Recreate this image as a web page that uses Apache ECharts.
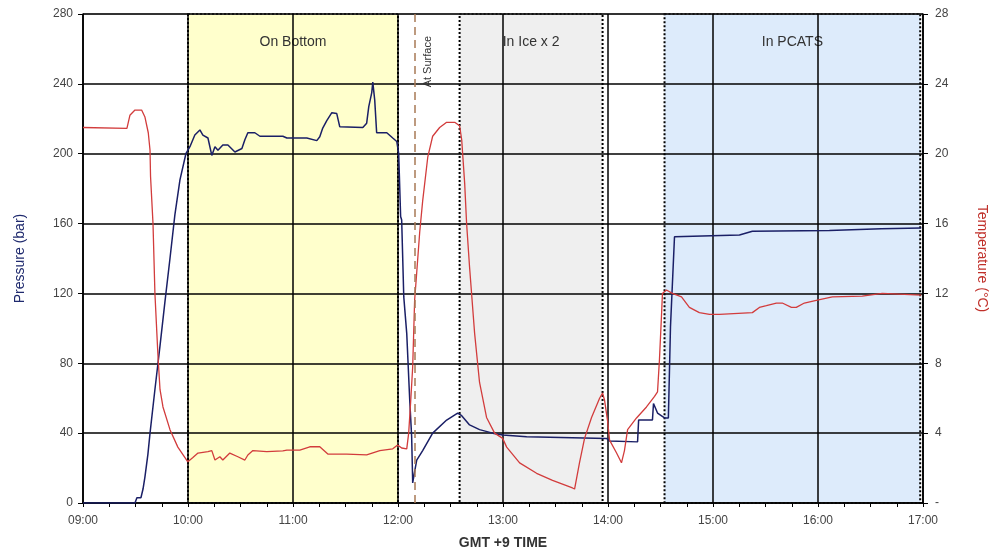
<!DOCTYPE html>
<html>
<head>
<meta charset="utf-8">
<script src="https://cdn.jsdelivr.net/npm/echarts@6/dist/echarts.min.js"></script>
<style>
  html, body { margin: 0; padding: 0; background: #fff; }
  #chart { width: 997px; height: 555px; }
</style>
</head>
<body>
<div id="chart"></div>
<script>
// time in minutes of the day (540 = 09:00)
var pressureTime = [540, 569.7, 570.8, 573.1, 574.3, 575.4, 577.1, 578.3, 581.1, 584, 586.8, 589.7, 592.5, 595.4, 598.8,
    601.1, 603.9, 606.8, 608.5, 611.4, 613.6, 615.4, 617.1, 619.9, 622.8, 626.8, 630.8, 632.5, 634.2, 638.2, 641.1,
    654.2, 656.5, 667.9, 673.6, 675.3, 677, 679.3, 682.2, 685, 686.7, 699.9, 702.1, 703.3, 705, 705.6, 706.7, 707.8,
    713.6, 717, 719.3, 720.4, 721.5, 722.1, 723.3, 725, 726.7, 727.8, 728.4, 729.5, 730.7, 734.1, 739.8, 747.8, 754.1,
    756.4, 760.9, 766.6, 774.1, 779.8, 793.5, 794.1, 839.2, 840.9, 856.9, 857.5, 865.4, 866.0, 868.3, 872.3, 874.5,
    875.7, 876.8, 878, 915.1, 916.2, 922.5, 966.5, 996.2, 1019];
var pressureVals = [0, 0, 3, 3, 8, 15, 28, 40, 65, 90, 115, 140, 165, 185, 200,
    204, 210.7, 213.6, 210.7, 209, 199, 204, 202, 205, 205, 201, 203, 208, 212, 212, 210,
    210, 209, 209, 207.5, 209.7, 214.7, 219, 223.5, 223, 215.5, 215, 217.5, 227, 235, 241, 230.7, 212,
    212, 209, 207, 200, 164, 162, 118, 97, 59, 38, 11.5, 18, 24.6, 30, 40, 47.5, 51.5,
    50, 44.7, 42, 40, 39, 38, 37.5, 37, 35.5, 35, 47.5, 47.5, 57, 51.5, 48.7, 48.7,
    100.8, 101, 152.5, 153.5, 154.6, 155.6, 156, 157, 157.5];

var tempTime = [540, 565.1, 566.8, 569.7, 573.5, 575.4, 577.3, 578.3, 578.6, 580, 581.1, 582.8, 584, 585.7, 589.7,
    594.2, 599.9, 602.8, 605.7, 611.4, 613.6, 615.4, 618.2, 619.9, 623.9, 628.5, 632.5, 634.2, 637.1, 645, 654.2,
    656.5, 663.9, 669.6, 675.3, 679.9, 690.7, 702.1, 709.6, 717, 719.8, 722.1, 725, 726.1, 727.3, 728.4, 729.5,
    730.7, 732.4, 734.1, 737, 739.8, 743.8, 747.8, 752.4, 755.2, 756.4, 758.1, 759.2, 760.9, 763.8, 766.6, 770.6,
    775.2, 779.8, 782.1, 789.5, 799.2, 808.3, 819.7, 820.9, 823.7, 826.6, 830.6, 835.2, 836.9, 838, 839.7, 840.9,
    844.9, 847.7, 849.4, 851.2, 856.3, 862, 866.6, 868.3, 869.4, 870.6, 871.1, 873.4, 876.8, 882, 886.5, 892.2,
    898, 903.7, 922.5, 926.5, 930.5, 936.2, 939.6, 944.8, 947.6, 952.2, 959, 968.2, 985.3, 996.7, 1019];
var tempVals = [21.5, 21.45, 22.2, 22.5, 22.5, 22.1, 21.2, 20.2, 18.7, 16, 12, 8.5, 6.5, 5.5, 4.2,
    3.2, 2.36, 2.6, 2.86, 2.94, 3.0, 2.46, 2.65, 2.46, 2.86, 2.65, 2.46, 2.75, 3.0, 2.94, 2.98,
    3.03, 3.03, 3.22, 3.22, 2.8, 2.8, 2.75, 3.0, 3.1, 3.32, 3.15, 3.1, 4.0, 5.9, 7.8, 11.6,
    13.2, 15.5, 17.3, 19.8, 21, 21.5, 21.8, 21.8, 21.6, 20.8, 18.3, 16, 13.5, 9.7, 6.9, 4.9,
    4.0, 3.7, 3.2, 2.3, 1.7, 1.3, 0.86, 0.8, 2.3, 3.7, 4.9, 6.0, 6.3, 5.9, 4.75, 3.6,
    2.86, 2.3, 3.0, 4.2, 4.87, 5.5, 6.1, 6.36, 8.2, 10.8, 12.0, 12.2, 12.0, 11.8, 11.2, 10.9,
    10.8, 10.8, 10.9, 11.2, 11.3, 11.45, 11.45, 11.2, 11.2, 11.45, 11.6, 11.8, 11.85, 12.0, 11.9];

// event periods
var bandNames = ['On Bottom', 'In Ice x 2', 'In PCATS'];
var bandStart = [600, 755.2, 872.3];
var bandEnd = [720, 836.9, 1018.4];
var bandColors = ['#ffffcc', '#efefef', '#ddebfb'];
var surfaceTime = 729.5;

function zip(a, b) {
    var out = [];
    for (var i = 0; i < a.length; i++) out.push([a[i], b[i]]);
    return out;
}
function hhmm(v) {
    var h = Math.floor(v / 60), m = Math.round(v % 60);
    return (h < 10 ? '0' : '') + h + ':' + (m < 10 ? '0' : '') + m;
}

var areas = [];
for (var i = 0; i < bandNames.length; i++) {
    areas.push([
        { name: bandNames[i], xAxis: bandStart[i], yAxis: 280, itemStyle: { color: bandColors[i] } },
        { xAxis: bandEnd[i], yAxis: 0 }
    ]);
}

var font = 'Liberation Sans, Arial, sans-serif';
var myChart = echarts.init(document.getElementById('chart'));
var option = {
    animation: false,
    textStyle: { fontFamily: font },
    grid: { left: 83, right: 73, top: 14, bottom: 52, show: true, borderColor: '#999', borderWidth: 1 },
    xAxis: {
        type: 'value', min: 540, max: 1020, interval: 60,
        name: 'GMT +9 TIME', nameLocation: 'middle', nameGap: 33,
        nameTextStyle: { fontSize: 14, fontWeight: 'bold', color: '#333' },
        axisLine: { lineStyle: { color: '#000', width: 1.5 } },
        axisTick: { length: 4, lineStyle: { color: '#000' } },
        minorTick: { show: true, splitNumber: 4, length: 4, lineStyle: { color: '#000' } },
        axisLabel: { formatter: hhmm, color: '#444', fontSize: 12, margin: 12 },
        splitLine: { show: true, lineStyle: { color: '#000', width: 1.5 } }
    },
    yAxis: [
        {
            type: 'value', min: 0, max: 280, interval: 40,
            name: 'Pressure (bar)', nameLocation: 'middle', nameGap: 56,
            nameTextStyle: { fontSize: 14, color: '#1f2a6e' },
            axisLine: { show: true, lineStyle: { color: '#000', width: 1.5 } },
            axisTick: { show: true, length: 5, lineStyle: { color: '#000' } },
            axisLabel: { color: '#444', fontSize: 12, margin: 10 },
            splitLine: { show: true, lineStyle: { color: '#000', width: 1.5 } }
        },
        {
            type: 'value', min: 0, max: 28, interval: 4,
            name: 'Temperature (°C)', nameLocation: 'middle', nameGap: 52, nameRotate: -90,
            nameTextStyle: { fontSize: 14, color: '#c0302a' },
            axisLine: { show: true, lineStyle: { color: '#000', width: 1.5 } },
            axisTick: { show: true, length: 5, lineStyle: { color: '#000' } },
            axisLabel: { color: '#444', fontSize: 12, margin: 12, formatter: function (v) { return v === 0 ? '-' : v; } },
            splitLine: { show: false }
        }
    ],
    series: [
        {
            name: 'periods', type: 'line', data: [], z: -1, silent: true,
            markArea: {
                silent: true, z: -1,
                itemStyle: { borderColor: '#000', borderWidth: 2, borderType: 'dotted' },
                label: { show: true, position: 'insideTop', distance: 22, fontSize: 14, color: '#333', fontFamily: font },
                data: areas
            }
        },
        {
            name: 'Pressure', type: 'line', yAxisIndex: 0, showSymbol: false, z: 3,
            data: zip(pressureTime, pressureVals),
            lineStyle: { color: '#1a1f66', width: 1.5 },
            itemStyle: { color: '#1a1f66' },
            markLine: {
                silent: true, symbol: 'none',
                lineStyle: { color: '#a87a55', type: [8, 5], width: 1.5 },
                label: { show: true, formatter: 'At Surface', position: 'insideEndBottom', fontSize: 11, color: '#333', distance: 8, padding: [0, 14, 0, 0] },
                data: [{ xAxis: surfaceTime }]
            }
        },
        {
            name: 'Temperature', type: 'line', yAxisIndex: 1, showSymbol: false, z: 4,
            data: zip(tempTime, tempVals),
            lineStyle: { color: '#d23c3c', width: 1.3 },
            itemStyle: { color: '#d23c3c' }
        }
    ]
};
myChart.setOption(option);
</script>
</body>
</html>
